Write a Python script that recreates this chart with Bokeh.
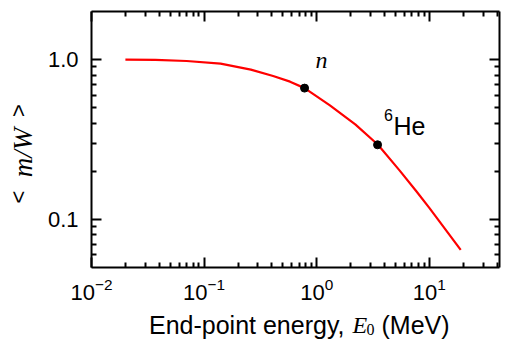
import math
from bokeh.plotting import figure
from bokeh.models import (LogAxis, FixedTicker, PrintfTickFormatter, LogTickFormatter,
                          CustomJSTickFormatter, Label, ColumnDataSource, Range1d)
from bokeh.embed import file_html
from bokeh.resources import INLINE

# ---- data ----
energy = [0.02, 0.037, 0.07, 0.14, 0.26, 0.41, 0.58, 0.78, 1.31, 2.2, 3.5, 5.46, 7.67, 10.0, 19.0]
ratio = [1.0, 0.996, 0.98, 0.944, 0.866, 0.789, 0.728, 0.663, 0.517, 0.393, 0.293, 0.202, 0.150, 0.118, 0.0645]
point_energy = [0.78, 3.47]
point_ratio = [0.663, 0.293]
x_major = [0.01, 0.1, 1.0, 10.0]
x_minor = [2e-2, 3e-2, 4e-2, 5e-2, 6e-2, 7e-2, 8e-2, 9e-2,
           0.2, 0.3, 0.4, 0.5, 0.6, 0.7, 0.8, 0.9,
           2, 3, 4, 5, 6, 7, 8, 9, 20, 30, 40]
y_major = [0.1, 1.0]
y_minor = [0.06, 0.07, 0.08, 0.09, 0.2, 0.3, 0.4, 0.5, 0.6, 0.7, 0.8, 0.9]
x_lim = (0.01, 42.0)
y_lim = (0.05, 2.0)

SANS = "Liberation Sans"
SERIF = "Liberation Serif"

# ---- layout: plot-area edges in canvas pixels ----
W, H = 507, 339
L, R, T, B = 91, 499, 11, 267
lx0, lx1 = math.log10(x_lim[0]), math.log10(x_lim[1])
ly0, ly1 = math.log10(y_lim[0]), math.log10(y_lim[1])
ppd_x = (R - L) / (lx1 - lx0)
ppd_y = (B - T) / (ly1 - ly0)
xr = Range1d(10 ** (lx0 - L / ppd_x), 10 ** (lx1 + (W - R) / ppd_x))
yr = Range1d(10 ** (ly0 - (H - B) / ppd_y), 10 ** (ly1 + T / ppd_y))

p = figure(width=W, height=H, x_axis_type="log", y_axis_type="log",
           x_range=xr, y_range=yr, output_backend="svg", toolbar_location=None,
           min_border=0)
p.grid.visible = False
p.outline_line_color = None
p.background_fill_color = "white"
p.border_fill_color = "white"


def style(ax):
    ax.major_tick_in = 10
    ax.major_tick_out = 0
    ax.minor_tick_in = 5
    ax.minor_tick_out = 0
    ax.axis_line_width = 2
    ax.axis_line_color = "black"
    ax.major_tick_line_width = 2
    ax.minor_tick_line_width = 2
    ax.major_tick_line_color = "black"
    ax.minor_tick_line_color = "black"
    ax.major_label_text_font = SANS
    ax.major_label_text_font_size = "22px"
    ax.major_label_text_color = "black"


xa = p.xaxis[0]
xa.ticker = FixedTicker(ticks=x_major, minor_ticks=x_minor)
xa.formatter = LogTickFormatter()
xa.fixed_location = y_lim[0]
xa.bounds = x_lim
style(xa)
xa.major_label_standoff = 10

ya = p.yaxis[0]
ya.ticker = FixedTicker(ticks=y_major, minor_ticks=y_minor)
ya.formatter = PrintfTickFormatter(format="%.1f")
ya.fixed_location = x_lim[0]
ya.bounds = y_lim
style(ya)
ya.major_label_standoff = 13

blank = CustomJSTickFormatter(code="return ''")
top = LogAxis(ticker=FixedTicker(ticks=x_major, minor_ticks=x_minor), formatter=blank,
              fixed_location=y_lim[1], bounds=x_lim)
right = LogAxis(ticker=FixedTicker(ticks=y_major, minor_ticks=y_minor), formatter=blank,
                fixed_location=x_lim[1], bounds=y_lim)
for ax in (top, right):
    style(ax)
    ax.major_label_standoff = 0
p.add_layout(top, "above")
p.add_layout(right, "right")

src = ColumnDataSource(dict(x=energy, y=ratio))
p.line("x", "y", source=src, line_color="#ff0000", line_width=2.2)
p.scatter(point_energy, point_ratio, size=8, color="black")


def lab(**kw):
    p.add_layout(Label(text_color="black", **kw))


# annotations near the points
lab(x=point_energy[0], y=point_ratio[0], x_offset=17, y_offset=28, text="n",
    text_font=SERIF, text_font_style="italic", text_font_size="24px",
    text_align="center", text_baseline="alphabetic")
lab(x=point_energy[1], y=point_ratio[1], x_offset=6.5, y_offset=30, text="6",
    text_font=SANS, text_font_size="16px", text_align="left", text_baseline="alphabetic")
lab(x=point_energy[1], y=point_ratio[1], x_offset=16, y_offset=19, text="He",
    text_font=SANS, text_font_size="25px", text_align="left", text_baseline="alphabetic")


def scr(ax, ay, **kw):
    # canvas pixel (from top-left) -> screen units of the frame (from bottom-left)
    lab(x=ax, y=H - ay, x_units="screen", y_units="screen", **kw)


# x axis title pieces
scr(148.5, 324, text="End-point energy,", text_font=SANS, text_font_size="25px",
    text_align="left", text_baseline="alphabetic")
scr(352, 324, text="E", text_font=SERIF, text_font_style="italic", text_font_size="24px",
    text_align="left", text_baseline="alphabetic")
scr(366, 328.5, text="0", text_font=SERIF, text_font_size="16px",
    text_align="left", text_baseline="alphabetic")
scr(381, 324, text="(MeV)", text_font=SANS, text_font_size="25px",
    text_align="left", text_baseline="alphabetic")

# y axis title pieces (rotated)
rot = dict(angle=90, angle_units="deg", text_align="center", text_baseline="middle")
scr(18, 196.5, text="<", text_font=SANS, text_font_size="22px", **rot)
scr(22, 152, text="m/W", text_font=SERIF, text_font_style="italic",
    text_font_size="27px", **rot)
scr(18, 110, text=">", text_font=SANS, text_font_size="22px", **rot)

open("out.html", "w").write(file_html(p, INLINE))
